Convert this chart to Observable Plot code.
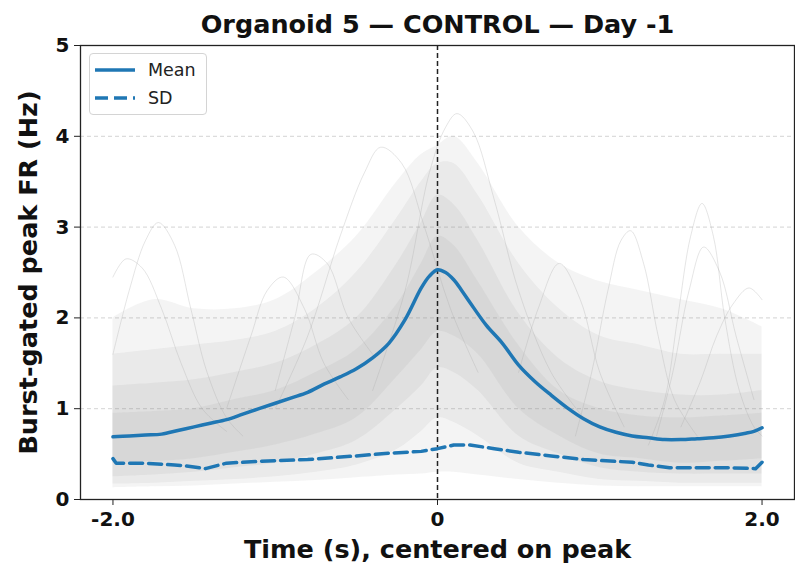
<!DOCTYPE html>
<html>
<head>
<meta charset="utf-8">
<script src="https://cdn.jsdelivr.net/npm/d3@7"></script>
<script src="https://cdn.jsdelivr.net/npm/@observablehq/plot@0.6"></script>
<style>
  html, body { margin: 0; padding: 0; background: #fff; }
  #wrap { position: relative; width: 795px; height: 567px; font-family: "DejaVu Sans", sans-serif; }
  #legend { position: absolute; left: 89px; top: 53px; width: 118px; height: 62px; border: 1px solid #d4d4d4; border-radius: 4px; background: rgba(255,255,255,0.85); box-sizing: border-box; }
  .lrow { position: absolute; left: 4px; height: 20px; display: flex; align-items: center; font-size: 17.5px; color: #222; }
  .lrow svg { margin-right: 12px; }
</style>
</head>
<body>
<div id="wrap">
  <div id="chart"></div>
  <div id="legend">
    <div class="lrow" style="top:6px"><svg width="42" height="8"><line x1="1" y1="4" x2="41" y2="4" stroke="#1f77b4" stroke-width="3.5"/></svg>Mean</div>
    <div class="lrow" style="top:34px"><svg width="42" height="8"><line x1="1" y1="4" x2="41" y2="4" stroke="#1f77b4" stroke-width="3.5" stroke-dasharray="13,6"/></svg>SD</div>
  </div>
</div>
<script>
// ---- data ----
const titleText = "Organoid 5 — CONTROL — Day -1";
const xLabel = "Time (s), centered on peak";
const yLabel = "Burst-gated peak FR (Hz)";
const xTicks = [-2, 0, 2];
const xTickLabels = ["-2.0", "0", "2.0"];
const yTicks = [0, 1, 2, 3, 4, 5];

const meanT = [-2,-1.9,-1.8,-1.7,-1.6,-1.5,-1.4,-1.3,-1.2,-1.1,-1.0,-0.9,-0.8,-0.7,-0.6,-0.5,-0.4,-0.3,-0.2,-0.1,-0.05,0,0.05,0.1,0.15,0.2,0.3,0.4,0.5,0.6,0.7,0.8,0.9,1.0,1.1,1.2,1.3,1.4,1.5,1.6,1.7,1.8,1.9,1.95,2.0];
const meanV = [0.69,0.70,0.71,0.72,0.76,0.80,0.84,0.88,0.94,1.00,1.06,1.12,1.18,1.27,1.35,1.44,1.56,1.72,1.98,2.33,2.46,2.53,2.50,2.42,2.30,2.17,1.92,1.72,1.48,1.30,1.15,1.01,0.89,0.80,0.74,0.70,0.68,0.66,0.66,0.67,0.68,0.70,0.73,0.75,0.79];

const sdT = [-2,-1.98,-1.8,-1.62,-1.55,-1.43,-1.3,-1.1,-0.8,-0.5,-0.3,-0.1,0,0.1,0.2,0.35,0.5,0.7,0.9,1.1,1.2,1.3,1.43,1.6,1.8,1.96,2.0];
const sdV = [0.45,0.40,0.40,0.38,0.37,0.34,0.40,0.42,0.44,0.48,0.51,0.53,0.56,0.60,0.60,0.56,0.52,0.48,0.44,0.42,0.41,0.38,0.35,0.35,0.35,0.34,0.41];

// grey cloud of individual traces: nested density bands
const bandT = [-2,-1.75,-1.5,-1.25,-1,-0.75,-0.5,-0.25,-0.1,0,0.1,0.25,0.5,0.75,1,1.25,1.5,1.75,2];
const b1Lo = [0.13,0.14,0.15,0.17,0.19,0.21,0.24,0.27,0.28,0.3,0.3,0.27,0.22,0.18,0.15,0.14,0.14,0.14,0.14];
const b1Hi = [2.0,2.2,2.1,2.1,2.2,2.5,2.9,3.5,3.8,3.9,4.0,3.7,3.0,2.6,2.4,2.3,2.2,2.1,1.9];
const b2Lo = [0.17,0.18,0.2,0.22,0.25,0.3,0.38,0.55,0.75,0.9,0.85,0.7,0.4,0.3,0.22,0.2,0.18,0.18,0.18];
const b2Hi = [1.6,1.65,1.7,1.75,1.85,2.1,2.5,3.1,3.5,3.7,3.7,3.35,2.6,2.1,1.8,1.7,1.6,1.6,1.6];
const b3Lo = [0.25,0.27,0.3,0.35,0.4,0.5,0.65,1.0,1.25,1.45,1.4,1.2,0.7,0.5,0.35,0.3,0.28,0.28,0.28];
const b3Hi = [1.25,1.28,1.32,1.4,1.5,1.7,2.0,2.6,3.05,3.35,3.25,2.85,2.05,1.55,1.3,1.2,1.15,1.15,1.2];
const b4Lo = [0.4,0.42,0.45,0.52,0.6,0.72,0.9,1.35,1.65,1.85,1.8,1.6,1.0,0.7,0.5,0.45,0.4,0.42,0.45];
const b4Hi = [0.95,0.97,1.0,1.1,1.2,1.4,1.65,2.15,2.6,2.9,2.8,2.4,1.7,1.2,1.0,0.92,0.9,0.92,0.95];

// a few individually visible outlier traces
const traceA = [[-2,1.6],[-1.9,2.3],[-1.8,2.85],[-1.72,3.05],[-1.62,2.8],[-1.52,2.1],[-1.42,1.4],[-1.3,0.9],[-1.2,0.7]];
const traceB = [[-2,2.45],[-1.92,2.65],[-1.82,2.55],[-1.7,2.1],[-1.58,1.5],[-1.45,1.0],[-1.3,0.75]];
const traceC = [[1.3,0.6],[1.4,1.1],[1.48,2.0],[1.56,2.9],[1.63,3.26],[1.70,2.9],[1.77,2.0],[1.86,1.2],[1.95,0.8],[2.0,0.7]];
const traceD = [[0.85,0.7],[0.95,1.4],[1.05,2.3],[1.13,2.85],[1.19,2.96],[1.27,2.6],[1.36,1.8],[1.46,1.1],[1.6,0.7]];
const traceF = [[1.5,0.8],[1.62,1.3],[1.72,1.8],[1.82,2.15],[1.92,2.33],[2.0,2.2]];
const traceG = [[-0.4,1.2],[-0.2,2.3],[-0.05,3.6],[0.05,4.1],[0.12,4.25],[0.22,4.05],[0.35,3.3],[0.5,2.3],[0.7,1.4],[0.9,0.9]];
const traceH = [[-1.0,1.0],[-0.8,1.8],[-0.6,2.9],[-0.45,3.6],[-0.35,3.88],[-0.22,3.7],[-0.08,3.0],[0.08,2.1],[0.25,1.4]];
const traceI = [[1.35,0.7],[1.45,1.4],[1.55,2.3],[1.64,2.78],[1.74,2.5],[1.84,1.8],[1.95,1.1]];
const traceJ = [[0.5,1.4],[0.62,2.1],[0.75,2.6],[0.88,2.2],[1.0,1.4],[1.15,0.8]];
const traceK = [[-1.3,1.0],[-1.15,1.8],[-1.05,2.3],[-0.95,2.45],[-0.82,2.1],[-0.7,1.5],[-0.55,1.1]];
const traceL = [[-1.0,1.2],[-0.88,2.0],[-0.78,2.7],[-0.68,2.6],[-0.55,2.0],[-0.4,1.6]];

// ---- build tables ----
const meanData = meanT.map((t, i) => ({t, v: meanV[i]}));
const sdData = sdT.map((t, i) => ({t, v: sdV[i]}));
const bands = bandT.map((t, i) => ({t, lo1: b1Lo[i], hi1: b1Hi[i], lo2: b2Lo[i], hi2: b2Hi[i], lo3: b3Lo[i], hi3: b3Hi[i], lo4: b4Lo[i], hi4: b4Hi[i]}));
const traces = [traceA, traceB, traceC, traceD, traceF, traceG, traceH, traceI, traceJ, traceK, traceL]
  .flatMap((tr, k) => tr.map(([t, v]) => ({id: k, t, v})));

const tickFmt = new Map(xTicks.map((t, i) => [t, xTickLabels[i]]));
const bandStyle = {x: "t", fill: "#808080", fillOpacity: 0.09, curve: "catmull-rom"};

const chart = Plot.plot({
  width: 795,
  height: 567,
  marginLeft: 80,
  marginRight: 1,
  marginTop: 45,
  marginBottom: 68,
  style: {fontFamily: "DejaVu Sans, sans-serif", fontWeight: "bold", color: "#111", background: "#fff"},
  x: {domain: [-2.2, 2.2]},
  y: {domain: [0, 5]},
  marks: [
    Plot.gridY([1, 2, 3, 4], {stroke: "#c8c8c8", strokeOpacity: 1, strokeWidth: 0.8, strokeDasharray: "4,3"}),
    Plot.areaY(bands, {...bandStyle, y1: "lo1", y2: "hi1"}),
    Plot.areaY(bands, {...bandStyle, y1: "lo2", y2: "hi2"}),
    Plot.areaY(bands, {...bandStyle, y1: "lo3", y2: "hi3"}),
    Plot.areaY(bands, {...bandStyle, y1: "lo4", y2: "hi4"}),
    Plot.line(traces, {x: "t", y: "v", z: "id", stroke: "#a8a8a8", strokeOpacity: 0.3, strokeWidth: 1, curve: "catmull-rom"}),
    Plot.ruleX([0], {stroke: "#222", strokeWidth: 1.5, strokeDasharray: "5,3"}),
    Plot.line(meanData, {x: "t", y: "v", stroke: "#1f77b4", strokeWidth: 3.5, curve: "catmull-rom"}),
    Plot.line(sdData, {x: "t", y: "v", stroke: "#1f77b4", strokeWidth: 3.5, strokeDasharray: "13,6"}),
    Plot.frame({stroke: "#222", strokeWidth: 1.3}),
    Plot.axisX({ticks: xTicks, tickFormat: d => tickFmt.get(d), tickSize: 6, tickPadding: 6, fontSize: 20, label: null, stroke: "#222"}),
    Plot.axisY({ticks: yTicks, tickFormat: d => String(d), tickSize: 6, tickPadding: 5, fontSize: 20, label: null, stroke: "#222"}),
    Plot.text([xLabel], {text: d => d, frameAnchor: "bottom", lineAnchor: "middle", dy: 50, fontSize: 25.5, fontWeight: "bold", fill: "#111"}),
    Plot.text([yLabel], {text: d => d, frameAnchor: "left", textAnchor: "middle", lineAnchor: "middle", dx: -52, rotate: -90, fontSize: 25.5, fontWeight: "bold", fill: "#111"}),
    Plot.text([titleText], {text: d => d, frameAnchor: "top", lineAnchor: "middle", dy: -21, fontSize: 25.5, fontWeight: "bold", fill: "#111"})
  ]
});
document.getElementById("chart").appendChild(chart);
</script>
</body>
</html>
